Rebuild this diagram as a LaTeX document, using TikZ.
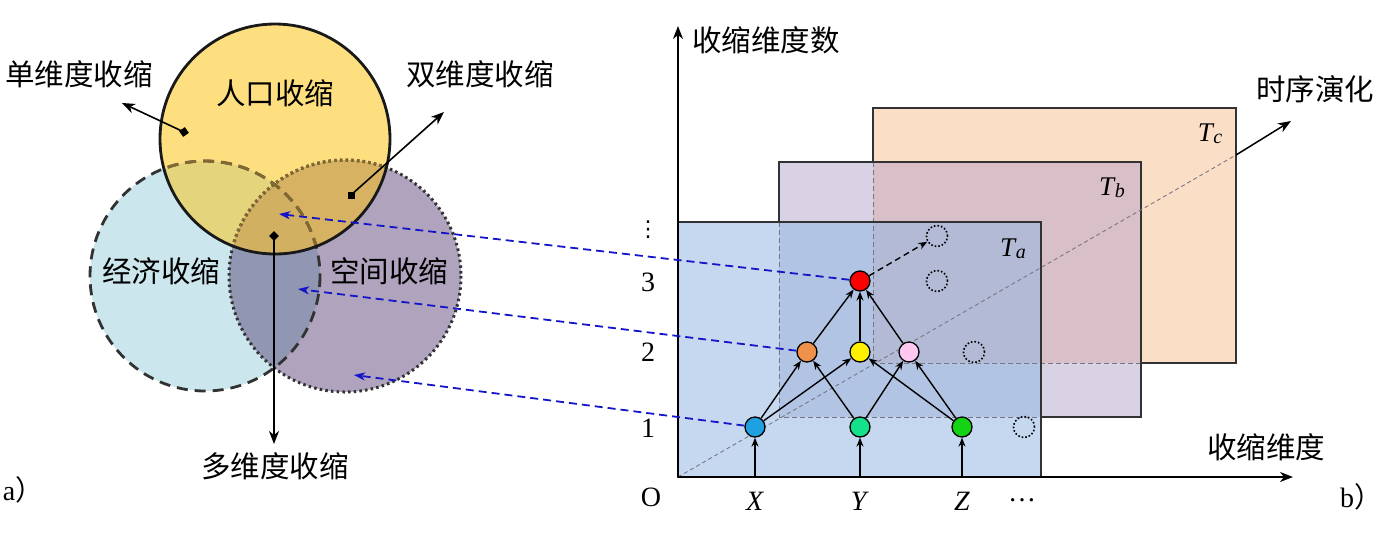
\documentclass[tikz,border=0pt]{standalone}
\usepackage{fontspec}
\setmainfont{Liberation Serif}
\newfontfamily\cjk{Noto Sans CJK SC}
\newfontfamily\dejavu{DejaVu Sans}
\usetikzlibrary{arrows.meta}
\definecolor{vy}{RGB}{254,223,128}
\definecolor{vb}{RGB}{203,230,237}
\definecolor{vp}{RGB}{175,163,190}
\definecolor{vyb}{RGB}{228,213,125}
\definecolor{vyp}{RGB}{214,178,98}
\definecolor{vbp}{RGB}{145,150,178}
\definecolor{vybp}{RGB}{210,176,98}
\definecolor{olivebd}{RGB}{130,105,50}
\definecolor{pa}{RGB}{197,216,239}
\definecolor{pb}{RGB}{217,209,228}
\definecolor{pc}{RGB}{250,222,198}
\definecolor{pab}{RGB}{178,196,227}
\definecolor{pbc}{RGB}{216,191,200}
\definecolor{pabc}{RGB}{179,186,214}
\definecolor{darkbd}{RGB}{50,50,50}
\definecolor{hidden}{RGB}{120,120,130}
\definecolor{nblue}{RGB}{30,160,225}
\definecolor{nmint}{RGB}{20,225,140}
\definecolor{ngreen}{RGB}{20,210,20}
\definecolor{norange}{RGB}{240,145,75}
\definecolor{nyellow}{RGB}{255,240,0}
\definecolor{npink}{RGB}{255,200,240}
\definecolor{nred}{RGB}{250,0,0}
\definecolor{arrblue}{RGB}{20,20,200}
\tikzset{
  cjkl/.style={font=\cjk\fontsize{29.5}{33}\selectfont, inner sep=0pt},
  serl/.style={font=\fontsize{28}{32}\selectfont, inner sep=0pt},
  varr/.style={line width=1.6pt, -{Stealth[length=13pt,width=10pt,inset=4pt]}},
  narr/.style={line width=1.4pt, -{Stealth[length=9pt,width=7pt,inset=3pt]}},
  bdash/.style={color=arrblue, line width=1.8pt, dash pattern=on 8pt off 5pt, -{Stealth[length=11pt,width=8pt,inset=3pt]}},
  nd/.style={circle, draw=black, line width=1.3pt, minimum size=20pt, inner sep=0pt},
  ghost/.style={circle, draw=black, line width=1.6pt, dash pattern=on 1.6pt off 2pt, minimum size=21pt, inner sep=0pt},
  hid/.style={color=hidden, line width=1pt, dash pattern=on 5pt off 3pt},
  pbd/.style={color=darkbd, line width=1.3pt},
  dotm/.style={fill=black, inner sep=0pt, minimum size=7pt, rectangle},
}
\begin{document}
\begin{tikzpicture}[x=1pt,y=-1pt]
\useasboundingbox (0,0) rectangle (1384,542);
% ---------------- Venn ----------------
\coordinate (cy) at (275,139);
\coordinate (cb) at (205,276);
\coordinate (cp) at (345,276);
\fill[vb] (cb) circle[radius=115];
\fill[vp] (cp) circle[radius=116];
\begin{scope}
  \clip (cp) circle[radius=116];
  \fill[vbp] (cb) circle[radius=115];
\end{scope}
\fill[vy] (cy) circle[radius=115];
\begin{scope}
  \clip (cy) circle[radius=115];
  \fill[vyb] (cb) circle[radius=115];
  \fill[vyp] (cp) circle[radius=116];
  \clip (cp) circle[radius=116];
  \fill[vybp] (cb) circle[radius=115];
\end{scope}
\draw[darkbd, line width=2.8pt, dash pattern=on 11pt off 7pt] (cb) circle[radius=115];
\draw[darkbd, line width=3pt, dash pattern=on 2.5pt off 3.2pt] (cp) circle[radius=116];
\begin{scope}
  \clip (cy) circle[radius=115];
  \draw[olivebd, line width=2.8pt, dash pattern=on 11pt off 7pt] (cb) circle[radius=115];
  \draw[olivebd, line width=3pt, dash pattern=on 2.5pt off 3.2pt] (cp) circle[radius=116];
\end{scope}
\draw[black!90, line width=2.8pt] (cy) circle[radius=115];

\node[cjkl] (lpop) at (275,93) {人口收缩};
\node[cjkl] (leco) at (161,271) {经济收缩};
\node[cjkl] (lspa) at (389,271) {空间收缩};
\node[cjkl] (l1) at (79,74) {单维度收缩};
\node[cjkl] (l2) at (480,74) {双维度收缩};
\node[cjkl] (l3) at (275,466) {多维度收缩};
\node[font=\fontsize{28}{32}\selectfont, inner sep=0pt] (la) at (23,490) {a\cjk）};

\node[dotm, rotate=35] (d1) at (184,132) {};
\node[dotm] (d2) at (351,195) {};
\node[dotm, rotate=45] (d3) at (274,236) {};
\coordinate (e1) at (122,103);
\coordinate (e2) at (444,112);
\coordinate (e3) at (274,444);
\draw[varr] (d1.center) -- (e1);
\draw[varr] (d2.center) -- (e2);
\draw[varr] (d3.center) -- (e3);

% ---------------- panels ----------------
\fill[pc] (873,108) rectangle (1236,363);
\fill[pb] (779,162) rectangle (1141,417);
\fill[pbc] (873,162) rectangle (1141,363);
\fill[pa] (678,222) rectangle (1041,477);
\fill[pab] (779,222) rectangle (1041,417);
\fill[pabc] (873,222) rectangle (1041,363);
\draw[hid] (873,162) -- (873,363) -- (1141,363);
\draw[hid] (779,222) -- (779,417) -- (1041,417);
\draw[pbd] (873,162) -- (873,108) -- (1236,108) -- (1236,363) -- (1141,363);
\draw[pbd] (779,222) -- (779,162) -- (1141,162) -- (1141,417) -- (1041,417);
\draw[pbd] (678,222) rectangle (1041,477);

\node[inner sep=0pt] (tc) at (1210,134) {\fontsize{27}{28}\selectfont\textit{T}\kern-1pt\raisebox{-1.5pt}{\fontsize{20}{20}\selectfont\textit{c}}};
\node[inner sep=0pt] (tb) at (1112,188) {\fontsize{27}{28}\selectfont\textit{T}\kern-1pt\raisebox{-1.5pt}{\fontsize{20}{20}\selectfont\textit{b}}};
\node[inner sep=0pt] (ta) at (1013,249) {\fontsize{27}{28}\selectfont\textit{T}\kern-1pt\raisebox{-1.5pt}{\fontsize{20}{20}\selectfont\textit{a}}};

% axes
\coordinate (O) at (678,477);
\coordinate (ytip) at (678,26);
\coordinate (xtip) at (1293,477);
\coordinate (tmid) at (1236,155);
\coordinate (ttip) at (1291,121);
\draw[color=hidden, line width=0.9pt, dash pattern=on 4pt off 3pt] (O) -- (tmid);
\draw[line width=1.5pt, -{Stealth[length=13pt,width=10pt,inset=4pt]}] (O) -- (ytip);
\draw[line width=1.5pt, -{Stealth[length=13pt,width=10pt,inset=4pt]}] (O) -- (xtip);
\draw[line width=1.5pt, -{Stealth[length=13pt,width=10pt,inset=4pt]}] (tmid) -- (ttip);

\node[cjkl] (ly) at (766,40) {收缩维度数};
\node[cjkl] (lx) at (1266,447) {收缩维度};
\node[cjkl] (lt) at (1315,89) {时序演化};
\node[font=\fontsize{28}{32}\selectfont, inner sep=0pt] (lb) at (1361,497) {b\cjk）};

\node[serl] (t0) at (651,497) {O};
\node[serl] (t1) at (648,428) {1};
\node[serl] (t2) at (648,352) {2};
\node[serl] (t3) at (648,282) {3};
\node[inner sep=0pt, font=\dejavu\fontsize{22}{24}\selectfont] (tv) at (648,230) {⋮};
\node[serl] (lX) at (755,501) {\textit{X}};
\node[serl] (lY) at (860,501) {\textit{Y}};
\node[serl] (lZ) at (962,501) {\textit{Z}};
\node[serl] (ldots) at (1022,500) {…};

% ---------------- network ----------------
\node[nd, fill=nblue] (x1) at (755,427) {};
\node[nd, fill=nmint] (y1) at (860,427) {};
\node[nd, fill=ngreen] (z1) at (962,427) {};
\node[ghost] (g1) at (1024,427) {};
\node[nd, fill=norange] (o2) at (807,352) {};
\node[nd, fill=nyellow] (y2) at (860,352) {};
\node[nd, fill=npink] (p2) at (909,352) {};
\node[ghost] (g2) at (974,352) {};
\node[nd, fill=nred] (r3) at (860,281) {};
\node[ghost] (g3) at (937,281) {};
\node[ghost] (g4) at (937,236) {};

\coordinate (ix) at (755,477);
\coordinate (iy) at (860,477);
\coordinate (iz) at (962,477);
\draw[narr] (ix) -- (x1);
\draw[narr] (iy) -- (y1);
\draw[narr] (iz) -- (z1);
\draw[narr] (x1) -- (o2);
\draw[narr] (x1) -- (y2);
\draw[narr] (y1) -- (o2);
\draw[narr] (y1) -- (p2);
\draw[narr] (z1) -- (y2);
\draw[narr] (z1) -- (p2);
\draw[narr] (o2) -- (r3);
\draw[narr] (y2) -- (r3);
\draw[narr] (p2) -- (r3);
\draw[line width=1.4pt, dash pattern=on 6pt off 4pt, -{Stealth[length=9pt,width=7pt,inset=3pt]}] (r3) -- (g4);

% blue dashed links
\coordinate (v3) at (279,214);
\coordinate (v2) at (298,289);
\coordinate (v1) at (354,375);
\draw[bdash] (r3) -- (v3);
\draw[bdash] (o2) -- (v2);
\draw[bdash] (x1) -- (v1);
\end{tikzpicture}
\end{document}
